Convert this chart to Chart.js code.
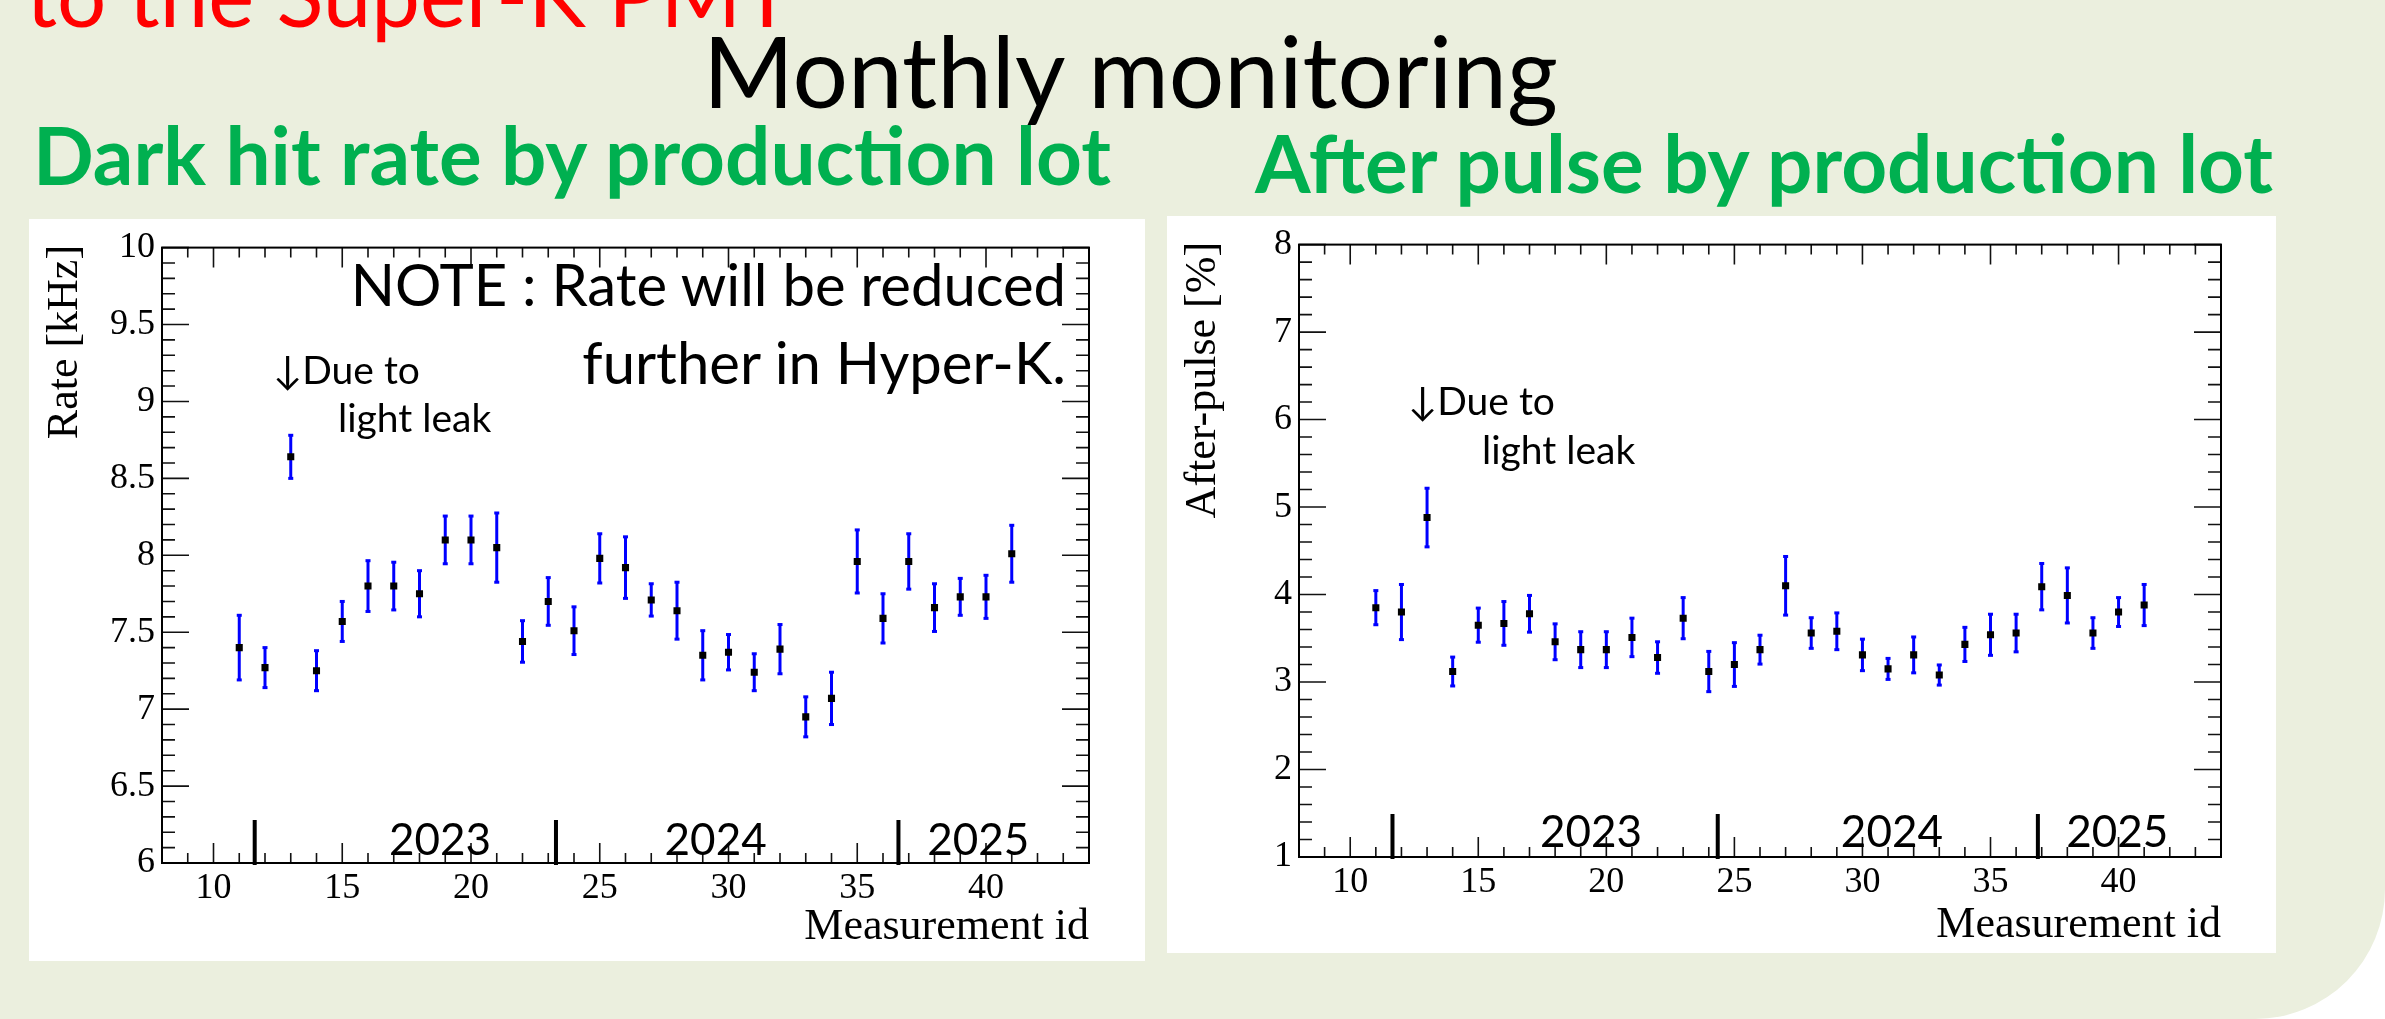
<!DOCTYPE html>
<html>
<head>
<meta charset="utf-8">
<script src="https://cdn.jsdelivr.net/npm/chart.js@4.4.1/dist/chart.umd.min.js"></script>
<style>
    body { margin: 0; width: 2385px; height: 1019px; background: #fff; overflow: hidden; position: relative; font-family: Lato, sans-serif; }
    #fondo { position: absolute; left: 0; top: 0; width: 2385px; height: 1019px; background: #ebefde; border-bottom-right-radius: 130px; }
    .txt { position: absolute; line-height: 1; white-space: nowrap; color: #000; }
    .verde { color: #00b050; font-weight: bold; font-size: 80px; }
    .nota { font-size: 58px; text-align: right; }
    .luz { font-size: 39px; }
    .panel { position: absolute; background: #fff; }
    .panel canvas { display: block; }
</style>
</head>
<body>
<div id="fondo"></div>

<div class="txt" style="left:26px; top:-50px; font-size:87px; color:#ff0000;">to the Super-K PMT</div>
<div class="txt" style="left:703px; top:21px; font-size:98px;">Monthly monitoring</div>
<div class="txt verde" style="left:33px; top:114px;">Dark hit rate by production lot</div>
<div class="txt verde" style="left:1255px; top:122px;">After pulse by production lot</div>

<div class="panel" style="left:29px; top:219px; width:1116px; height:742px;">
    <canvas id="graficaRate" width="1116" height="742"></canvas>
</div>
<div class="panel" style="left:1167px; top:216px; width:1109px; height:737px;">
    <canvas id="graficaAP" width="1109" height="737"></canvas>
</div>

<div class="txt nota" style="right:1319px; top:255px;">NOTE : Rate will be reduced</div>
<div class="txt nota" style="right:1319px; top:333px;">further in Hyper-K.</div>

<div class="txt luz" style="left:273px; top:350px;">↓Due to</div>
<div class="txt luz" style="left:338px; top:398px;">light leak</div>
<div class="txt luz" style="left:1408px; top:381px;">↓Due to</div>
<div class="txt luz" style="left:1482px; top:430px;">light leak</div>

<script>
// Measurement id (común a las dos gráficas)
const measId = [11, 12, 13, 14, 15, 16, 17, 18, 19, 20, 21, 22, 23, 24, 25, 26,
                27, 28, 29, 30, 31, 32, 33, 34, 35, 36, 37, 38, 39, 40, 41];

// Dark hit rate [kHz] y su error
const rate = [7.40, 7.27, 8.64, 7.25, 7.57, 7.80, 7.80, 7.75, 8.10, 8.10, 8.05, 7.44, 7.70, 7.51, 7.98, 7.92,
              7.71, 7.64, 7.35, 7.37, 7.24, 7.39, 6.95, 7.07, 7.96, 7.59, 7.96, 7.66, 7.73, 7.73, 8.01];
const rateErr = [0.21, 0.13, 0.14, 0.13, 0.13, 0.165, 0.155, 0.15, 0.155, 0.155, 0.225, 0.135, 0.155, 0.155, 0.16, 0.20,
                 0.105, 0.185, 0.16, 0.115, 0.12, 0.16, 0.13, 0.17, 0.205, 0.16, 0.18, 0.155, 0.12, 0.14, 0.185];

// After-pulse [%] y su error
const afterPulse = [3.85, 3.80, 4.88, 3.12, 3.65, 3.67, 3.78, 3.46, 3.37, 3.37, 3.51, 3.28, 3.73, 3.12, 3.20, 3.37,
                    4.10, 3.56, 3.58, 3.31, 3.15, 3.31, 3.08, 3.43, 3.54, 3.56, 4.09, 3.99, 3.56, 3.80, 3.88];
const afterPulseErr = [0.195, 0.315, 0.335, 0.165, 0.195, 0.25, 0.21, 0.205, 0.205, 0.205, 0.22, 0.18, 0.235, 0.23, 0.25, 0.165,
                       0.335, 0.175, 0.21, 0.18, 0.12, 0.205, 0.115, 0.195, 0.235, 0.215, 0.265, 0.315, 0.175, 0.165, 0.235];

// Etiquetas de los ejes
const xTicks = [10, 15, 20, 25, 30, 35, 40];
const rateTicks = [6, 6.5, 7, 7.5, 8, 8.5, 9, 9.5, 10];
const apTicks = [1, 2, 3, 4, 5, 6, 7, 8];

// Años escritos sobre el eje x (centro del texto y separadores "|")
const years = ["2023", "2024", "2025"];
const rateYearPos = [18.8, 29.5, 39.7];
const rateYearSep = [11.6, 23.3, 36.6];
const apYearPos = [19.4, 31.15, 39.95];
const apYearSep = [11.65, 24.35, 36.85];

const FUENTE_ROOT = "Liberation Serif";

// -------- BARRAS DE ERROR --------
const barrasError = {
    id: "barrasError",
    beforeDatasetsDraw(chart) {
        const ds = chart.data.datasets[0];
        const x = chart.scales.x;
        const y = chart.scales.y;
        const ctx = chart.ctx;
        ctx.save();
        ctx.strokeStyle = "#0000ff";
        ctx.fillStyle = "#0000ff";
        ctx.lineWidth = 3;
        ds.data.forEach((p, i) => {
            const px = x.getPixelForValue(p.x);
            const arriba = y.getPixelForValue(p.y + ds.errores[i]);
            const abajo = y.getPixelForValue(p.y - ds.errores[i]);
            ctx.beginPath();
            ctx.moveTo(px, arriba);
            ctx.lineTo(px, abajo);
            ctx.stroke();
            ctx.fillRect(px - 2.5, arriba - 1.5, 5, 3);
            ctx.fillRect(px - 2.5, abajo - 1.5, 5, 3);
        });
        ctx.restore();
    }
};

// -------- MARCO ESTILO ROOT (ticks hacia dentro, título Y, años) --------
function crearMarco(cfg) {
    return {
        id: "marcoRoot",
        afterDatasetsDraw(chart) {
            const ctx = chart.ctx;
            const a = chart.chartArea;
            const x = chart.scales.x;
            const y = chart.scales.y;
            ctx.save();
            ctx.strokeStyle = "#111";
            ctx.lineWidth = 1.6;
            ctx.beginPath();
            for (let v = Math.ceil(x.min); v <= x.max; v++) {
                const px = x.getPixelForValue(v);
                const l = v % 5 === 0 ? 20 : 10;
                ctx.moveTo(px, a.bottom);
                ctx.lineTo(px, a.bottom - l);
                ctx.moveTo(px, a.top);
                ctx.lineTo(px, a.top + l);
            }
            const pasos = Math.round((y.max - y.min) / cfg.menor);
            for (let k = 0; k <= pasos; k++) {
                const py = y.getPixelForValue(y.min + k * cfg.menor);
                const l = k % cfg.cadaMayor === 0 ? 27 : 13;
                ctx.moveTo(a.left, py);
                ctx.lineTo(a.left + l, py);
                ctx.moveTo(a.right, py);
                ctx.lineTo(a.right - l, py);
            }
            ctx.stroke();

            ctx.lineWidth = 2;
            ctx.strokeStyle = "#000";
            ctx.strokeRect(a.left, a.top, a.right - a.left, a.bottom - a.top);

            // título del eje Y, alineado al final como en ROOT
            ctx.fillStyle = "#000";
            ctx.font = "44px " + FUENTE_ROOT;
            ctx.textAlign = "left";
            ctx.textBaseline = "middle";
            const m = ctx.measureText(cfg.tituloY);
            ctx.save();
            ctx.translate(cfg.xTituloY, a.top + m.actualBoundingBoxRight);
            ctx.rotate(-Math.PI / 2);
            ctx.fillText(cfg.tituloY, 0, 0);
            ctx.restore();

            // años y separadores
            ctx.font = "44px Lato";
            ctx.textAlign = "center";
            ctx.textBaseline = "alphabetic";
            years.forEach((t, i) => {
                ctx.fillText(t, x.getPixelForValue(cfg.posAnio[i]), a.bottom - cfg.subeAnio);
            });
            ctx.lineWidth = 4;
            ctx.beginPath();
            cfg.sepAnio.forEach(v => {
                const px = x.getPixelForValue(v);
                ctx.moveTo(px, a.bottom + 2);
                ctx.lineTo(px, a.bottom - 43);
            });
            ctx.stroke();
            ctx.restore();
        }
    };
}

function crearGrafica(id, valores, errores, yMin, yMax, yTicks, cfg) {
    return new Chart(document.getElementById(id), {
        type: "scatter",
        data: {
            datasets: [{
                data: measId.map((m, i) => ({ x: m, y: valores[i] })),
                errores: errores,
                backgroundColor: "#000",
                borderWidth: 0,
                pointStyle: "rect",
                pointRadius: 5,
                pointHoverRadius: 5
            }]
        },
        options: {
            responsive: false,
            animation: false,
            layout: { padding: { top: cfg.arriba, right: cfg.derecha, left: 0, bottom: 0 } },
            plugins: {
                legend: { display: false },
                tooltip: { enabled: false }
            },
            scales: {
                x: {
                    type: "linear",
                    min: 8,
                    max: 44,
                    afterFit: s => { s.height = cfg.abajo; },
                    afterBuildTicks: s => { s.ticks = xTicks.map(v => ({ value: v })); },
                    grid: { display: false, drawTicks: false },
                    border: { display: false },
                    ticks: {
                        color: "#000",
                        padding: 4,
                        autoSkip: false,
                        maxRotation: 0,
                        font: { family: FUENTE_ROOT, size: 36 },
                        callback: v => String(v)
                    },
                    title: {
                        display: true,
                        text: "Measurement id",
                        align: "end",
                        color: "#000",
                        font: { family: FUENTE_ROOT, size: 44 },
                        padding: { top: 0, bottom: cfg.tituloX }
                    }
                },
                y: {
                    type: "linear",
                    min: yMin,
                    max: yMax,
                    afterFit: s => { s.width = cfg.izquierda; },
                    afterBuildTicks: s => { s.ticks = yTicks.map(v => ({ value: v })); },
                    grid: { display: false, drawTicks: false },
                    border: { display: false },
                    ticks: {
                        color: "#000",
                        padding: 7,
                        autoSkip: false,
                        font: { family: FUENTE_ROOT, size: 36 },
                        callback: v => String(v)
                    }
                }
            }
        },
        plugins: [barrasError, crearMarco(cfg)]
    });
}

crearGrafica("graficaRate", rate, rateErr, 6, 10, rateTicks, {
    arriba: 15, derecha: 56, izquierda: 133, abajo: 98, tituloX: 7,
    tituloY: "Rate [kHz]", xTituloY: 36,
    menor: 0.1, cadaMayor: 5,
    posAnio: rateYearPos, sepAnio: rateYearSep, subeAnio: 8
});

crearGrafica("graficaAP", afterPulse, afterPulseErr, 1, 8, apTicks, {
    arriba: 17, derecha: 55, izquierda: 132, abajo: 96, tituloX: 1,
    tituloY: "After-pulse [%]", xTituloY: 36,
    menor: 0.2, cadaMayor: 5,
    posAnio: apYearPos, sepAnio: apYearSep, subeAnio: 10
});
</script>
</body>
</html>
